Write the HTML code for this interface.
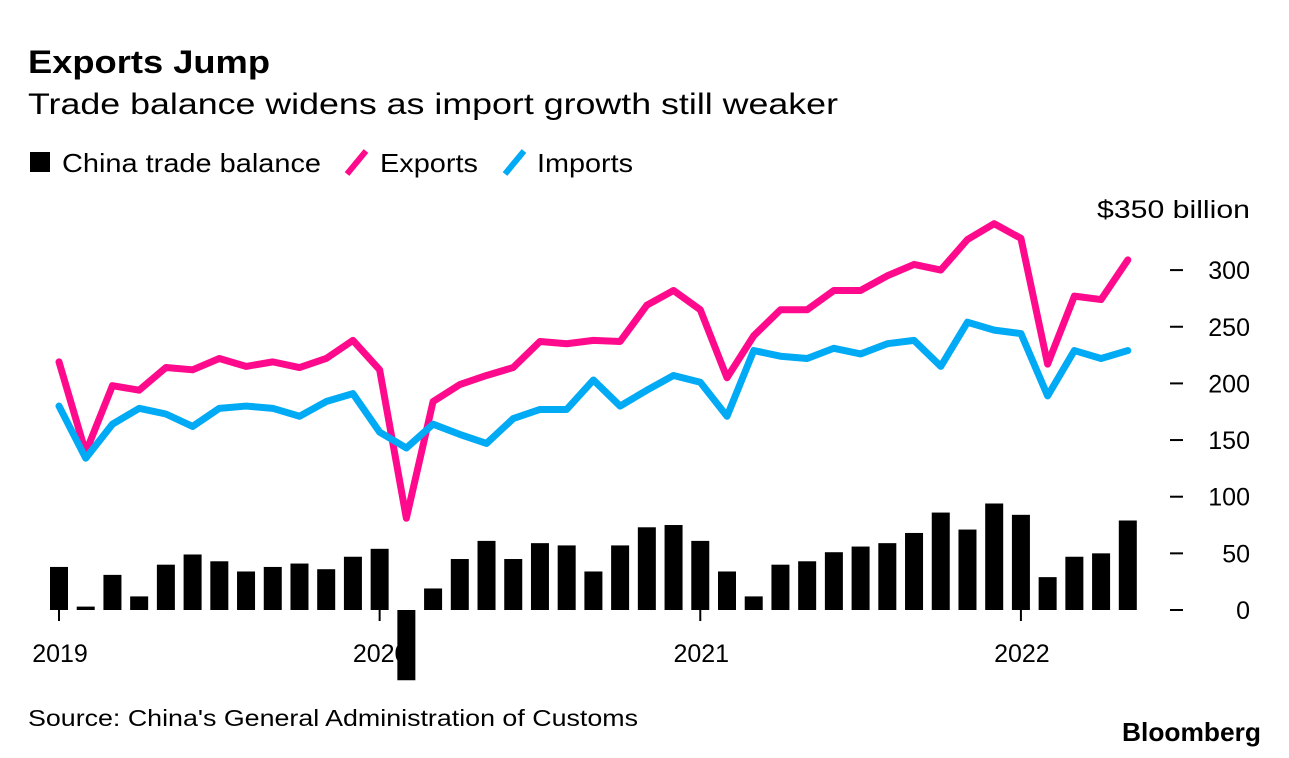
<!DOCTYPE html>
<html><head><meta charset="utf-8"><style>
body{margin:0;background:#fff;width:1289px;height:758px;overflow:hidden;font-family:"Liberation Sans",sans-serif;color:#000}
svg{position:absolute;left:0;top:0}
</style></head><body>
<svg id="c" width="1289" height="758">
<text x="28" y="73" font-size="32" font-weight="bold" textLength="242" lengthAdjust="spacingAndGlyphs">Exports Jump</text>
<text x="28" y="114" font-size="30" textLength="810" lengthAdjust="spacingAndGlyphs">Trade balance widens as import growth still weaker</text>
<g>
<rect x="30" y="152" width="20" height="20" fill="#000"/>
<text x="62" y="172" font-size="26" textLength="259" lengthAdjust="spacingAndGlyphs">China trade balance</text>
<line x1="347" y1="174" x2="366" y2="151" stroke="#ff0a8c" stroke-width="6"/>
<text x="380" y="172" font-size="26" textLength="98" lengthAdjust="spacingAndGlyphs">Exports</text>
<line x1="505" y1="174" x2="524" y2="151" stroke="#00aaf5" stroke-width="6"/>
<text x="537" y="172" font-size="26" textLength="96" lengthAdjust="spacingAndGlyphs">Imports</text>
</g>
<text x="1097" y="218" font-size="25" textLength="153" lengthAdjust="spacingAndGlyphs">$350 billion</text>
<g id="plot"></g>
<text x="28" y="726" font-size="23" textLength="610" lengthAdjust="spacingAndGlyphs">Source: China's General Administration of Customs</text>
<text x="1122" y="741" font-size="26" font-weight="bold" textLength="139" lengthAdjust="spacingAndGlyphs">Bloomberg</text>
</svg>
<script>
const balance=[38,3,31,12,40,49,43,34,38,41,36,47,54,-62,19,45,61,45,59,57,34,57,73,75,61,34,12,40,43,51,56,59,68,86,71,94,84,29,47,50,79];
const exportsV=[219,139,198,194,214,212,222,215,219,214,222,238,212,81,184,199,207,214,237,235,238,237,269,282,265,205,242,265,265,282,282,295,305,300,327,341,328,217,277,274,309];
const importsV=[180,134,164,178,173,162,178,180,178,171,184,191,157,143,164,155,147,169,177,177,203,180,194,207,201,171,229,224,222,231,226,235,238,215,254,247,244,189,229,222,229];
const yTicks=[0,50,100,150,200,250,300];
const xYears=["2019","2020","2021","2022"];
const xYearIdx=[0,12,24,36];
const ns="http://www.w3.org/2000/svg";
const g=document.getElementById('plot');
const X=i=>59+i*26.72;
const Y=v=>610-v*1.133;
function mk(t,a){const e=document.createElementNS(ns,t);for(const k in a)e.setAttribute(k,a[k]);g.appendChild(e);return e;}
yTicks.forEach(v=>{
 const l=mk('line',{x1:1170,x2:1183,y1:Y(v),y2:Y(v),stroke:'#000','stroke-width':2});
 
 
 const t=mk('text',{x:1250,y:Y(v)+9,'font-size':25,'text-anchor':'end'});
 t.textContent=v;
 
 
});
xYearIdx.forEach((idx,k)=>{
 const l=mk('line',{x1:X(idx),x2:X(idx),y1:610,y2:621,stroke:'#000','stroke-width':2});
 
 
 const t=mk('text',{x:X(idx)+1,y:662,'font-size':25,'text-anchor':'middle'});
 t.textContent=xYears[k];
 
 
});
balance.forEach((v,i)=>{
 const y0=Y(0),y1=Y(v);
 const r=mk('rect',{x:X(i)-9,y:Math.min(y0,y1),width:18,height:Math.max(2,Math.abs(y1-y0)),fill:'#000'});
 
 
});
function line(arr,col,name){
 const p=mk('polyline',{points:arr.map((v,i)=>X(i)+','+Y(v)).join(' '),fill:'none',stroke:col,'stroke-width':7,'stroke-linejoin':'round','stroke-linecap':'round'});
 
 
}
line(exportsV,'#ff0a8c','exports-line');
line(importsV,'#00aaf5','imports-line');
</script>
</body></html>
